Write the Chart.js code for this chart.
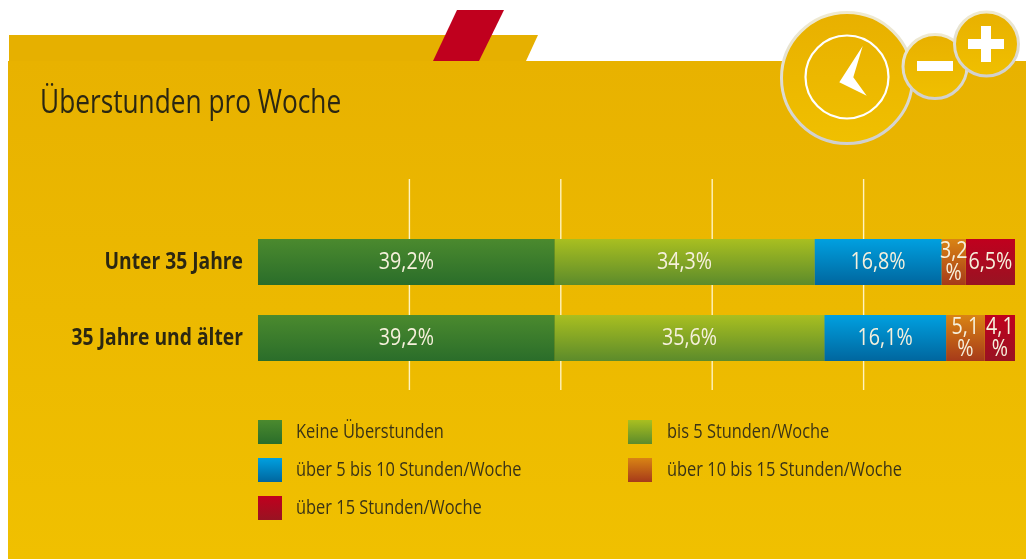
<!DOCTYPE html>
<html lang="de"><head><meta charset="utf-8"><title>Überstunden pro Woche</title>
<style>html,body{margin:0;padding:0;background:#fff}canvas{display:block}#w{width:1026px;height:559px;position:relative}</style>
<script src="https://cdn.jsdelivr.net/npm/chart.js@4"></script></head>
<body><div id="w"><canvas id="c" width="1026" height="559"></canvas></div>
<script>
const categories = ["Unter 35 Jahre", "35 Jahre und älter"];
const seriesNames = ["Keine Überstunden", "bis 5 Stunden/Woche", "über 5 bis 10 Stunden/Woche", "über 10 bis 15 Stunden/Woche", "über 15 Stunden/Woche"];
const keine = [39.2, 39.2];
const bis5 = [34.3, 35.6];
const bis10 = [16.8, 16.1];
const bis15 = [3.2, 5.1];
const ueber15 = [6.5, 4.1];
const gradTop = ["#4b8a2e", "#a9bf20", "#00a0e0", "#d98414", "#c0001e"];
const gradBottom = ["#2a6d2a", "#5c8b2b", "#00669e", "#a63a1a", "#981322"];
const FONT = "'Open Sans'";
const BAR = 46;
const CONDENSE = 0.82;

function vGrad(c, top, bottom, a, b){const g=c.createLinearGradient(0,top,0,bottom);g.addColorStop(0,a);g.addColorStop(1,b);return g;}
function poly(c,pts,fill){c.beginPath();pts.forEach((p,i)=>i?c.lineTo(p[0],p[1]):c.moveTo(p[0],p[1]));c.closePath();c.fillStyle=fill;c.fill();}
function disc(c,x,y,r){
  c.beginPath();c.arc(x,y,r-1.5,0,Math.PI*2);
  c.fillStyle=vGrad(c,y-r,y+r,"#e8b000","#f0c000");c.fill();
  c.lineWidth=3;c.strokeStyle=vGrad(c,y-r,y+r,"#f0ead0","#cfcfcf");c.stroke();
}
const backdrop={id:"backdrop",beforeDraw(chart){
  const c=chart.ctx;c.save();
  c.fillStyle="#fff";c.fillRect(0,0,1026,559);
  poly(c,[[9,35],[538,35],[526,61],[9,61]],"#e6b000");
  c.fillStyle=vGrad(c,61,559,"#e8b200","#f0c000");c.fillRect(8,61,1018,498);
  poly(c,[[457,10],[504,10],[479,61],[433,61]],"#c0001e");
  disc(c,847,78,67);
  c.beginPath();c.arc(847,77,41.5,0,Math.PI*2);c.lineWidth=2.2;c.strokeStyle="#fff";c.stroke();
  poly(c,[[862.7,46],[853.3,77.3],[866.7,95.7],[839.3,82.3]],"#fff");
  disc(c,935,66.5,33.5);
  c.fillStyle="#fff";c.fillRect(917,61,36,10);
  disc(c,986.5,44,33.5);
  c.fillStyle="#fff";c.fillRect(968,39,36,10);c.fillRect(981,26,10,36);
  c.restore();
},beforeDatasetsDraw(chart){
  const c=chart.ctx,x=chart.scales.x;c.save();c.strokeStyle="#fff3c0";c.lineWidth=1.4;
  x.ticks.forEach(t=>{if(t.value>0&&t.value<100){const p=x.getPixelForValue(t.value);c.beginPath();c.moveTo(p,179);c.lineTo(p,390);c.stroke();}});
  c.restore();
}};
const labels={id:"labels",afterDatasetsDraw(chart){
  const c=chart.ctx;c.save();c.textAlign="center";c.textBaseline="middle";c.font="24px "+FONT;c.fillStyle="#f6f0dc";
  chart.data.datasets.forEach((ds,i)=>{chart.getDatasetMeta(i).data.forEach((bar,j)=>{
    const txt=ds.data[j].toFixed(1).replace(".",",")+"%";
    const w=Math.abs(bar.x-bar.base),y=bar.y;
    const cx=(Math.min(bar.x,chart.chartArea.right)+bar.base)/2;
    if(c.measureText(txt).width+2>w){
      c.fillText(txt.slice(0,-1),cx,y-11);c.fillText("%",cx,y+11);
    }else c.fillText(txt,cx,y);
  });});
  c.restore();
}};
const legendBox={id:"legendBox",afterDraw(chart){
  const c=chart.ctx;c.save();c.textAlign="left";c.textBaseline="middle";c.font="20px "+FONT;
  const slots=[[258,420],[628,420],[258,458],[628,458],[258,496]];
  chart.data.datasets.forEach((ds,i)=>{const s=slots[i];
    c.fillStyle=vGrad(c,s[1],s[1]+24,gradTop[i],gradBottom[i]);c.fillRect(s[0],s[1],24,24);
    c.fillStyle="#3b3416";c.fillText(ds.label,s[0]+(i%2?39:38),s[1]+12);
  });
  c.restore();
}};
const allSeries=[keine,bis5,bis10,bis15,ueber15];
const canvas=document.getElementById("c");
// No condensed face is installed, so every text drawn on this canvas is narrowed horizontally.
const ctx2d=canvas.getContext("2d");
const rawFill=ctx2d.fillText.bind(ctx2d), rawMeasure=ctx2d.measureText.bind(ctx2d);
ctx2d.fillText=function(t,x,y){ctx2d.save();ctx2d.translate(x,y);ctx2d.scale(CONDENSE,1);rawFill(t,0,0);ctx2d.restore();};
ctx2d.measureText=function(t){return {width:rawMeasure(t).width*CONDENSE};};
new Chart(canvas,{
  type:"bar",
  data:{labels:categories,datasets:allSeries.map((d,i)=>({
    label:seriesNames[i],data:d,borderWidth:0,
    backgroundColor(ctx){
      const y=ctx.chart.scales.y; if(!y||ctx.dataIndex===undefined) return gradTop[i];
      const m=y.getPixelForValue(ctx.dataIndex);
      if(!Number.isFinite(m)) return gradTop[i];
      return vGrad(ctx.chart.ctx,m-BAR/2,m+BAR/2,gradTop[i],gradBottom[i]);
    },
    barPercentage:46/76,categoryPercentage:1
  }))},
  plugins:[backdrop,labels,legendBox],
  options:{
    indexAxis:"y",responsive:false,animation:false,
    layout:{padding:{left:40,right:11,top:85,bottom:183}},
    scales:{
      x:{stacked:true,min:0,max:100,grid:{display:false},border:{display:false},
        ticks:{display:false,stepSize:20},afterFit(s){s.height=0;}},
      y:{stacked:true,grid:{display:false,drawTicks:false},border:{display:false},
        ticks:{padding:15,color:"#2b2712",font:{family:FONT,size:23.5,weight:"bold"}},
        afterFit(s){s.width=218;}}
    },
    plugins:{
      legend:{display:false},tooltip:{enabled:false},
      title:{display:true,text:"Überstunden pro Woche",align:"start",color:"#2b2712",
        font:{family:FONT,size:32,weight:"normal"},padding:{top:0,bottom:100.6}}
    }
  }
});
</script></body></html>
